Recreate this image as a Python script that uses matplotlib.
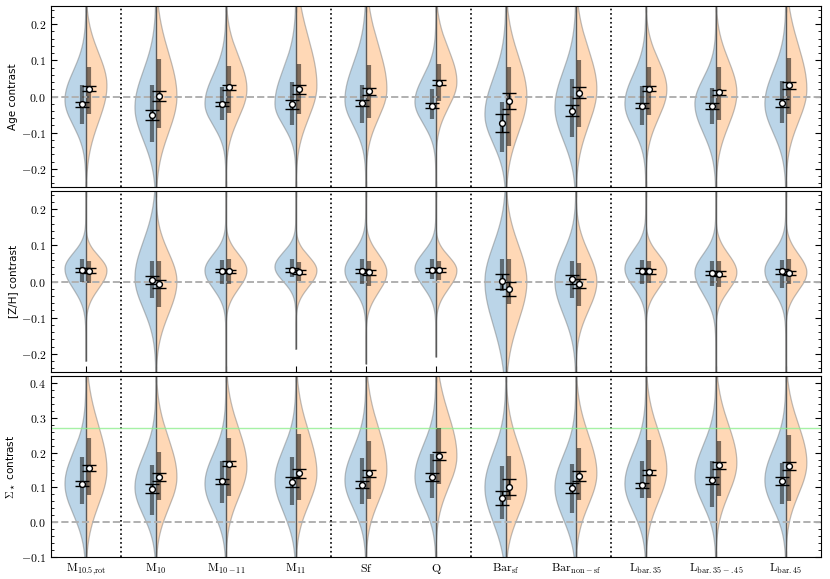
import numpy as np
import matplotlib
matplotlib.use("Agg")
import matplotlib.pyplot as plt
from matplotlib.ticker import MultipleLocator, AutoMinorLocator, FuncFormatter

plt.rcParams['mathtext.fontset'] = 'cm'
plt.rcParams['font.family'] = 'DejaVu Sans'

labels = [r'$\mathrm{M_{10.5{,}rot}}$', r'$\mathrm{M_{10}}$', r'$\mathrm{M_{10-11}}$',
          r'$\mathrm{M_{11}}$', r'$\mathrm{Sf}$', r'$\mathrm{Q}$', r'$\mathrm{Bar_{sf}}$',
          r'$\mathrm{Bar_{non-sf}}$', r'$\mathrm{L_{bar.35}}$', r'$\mathrm{L_{bar.35-.45}}$',
          r'$\mathrm{L_{bar.45}}$']
separators = [0.5, 3.5, 5.5, 7.5]

# ---- Age contrast ----
age_b_med = [-0.021, -0.051, -0.021, -0.022, -0.018, -0.025, -0.073, -0.039, -0.025, -0.027, -0.019]
age_b_err = [0.007, 0.014, 0.005, 0.012, 0.008, 0.007, 0.024, 0.015, 0.007, 0.008, 0.011]
age_b_q3 = [0.033, 0.033, 0.027, 0.039, 0.033, 0.022, -0.016, 0.049, 0.030, 0.023, 0.042]
age_b_q1 = [-0.077, -0.126, -0.065, -0.080, -0.074, -0.063, -0.152, -0.112, -0.078, -0.076, -0.074]
age_o_med = [0.021, 0.002, 0.025, 0.020, 0.014, 0.038, -0.012, 0.011, 0.022, 0.012, 0.031]
age_o_err = [0.007, 0.014, 0.006, 0.012, 0.009, 0.007, 0.022, 0.016, 0.006, 0.007, 0.010]
age_o_q3 = [0.081, 0.104, 0.083, 0.091, 0.088, 0.090, 0.082, 0.102, 0.082, 0.081, 0.106]
age_o_q1 = [-0.048, -0.086, -0.046, -0.047, -0.059, -0.013, -0.137, -0.083, -0.051, -0.065, -0.048]
# violin outline: peak position, spread below / above the peak
age_b_peak = [-0.01, -0.03, -0.02, -0.02, -0.01, -0.015, -0.05, -0.03, -0.02, -0.02, -0.02]
age_b_slo = [0.07, 0.09, 0.06, 0.06, 0.07, 0.06, 0.08, 0.09, 0.07, 0.08, 0.08]
age_b_shi = [0.08, 0.10, 0.08, 0.095, 0.10, 0.07, 0.10, 0.10, 0.08, 0.07, 0.09]
age_o_peak = [0.03, 0.0, 0.02, 0.03, 0.02, 0.04, 0.0, 0.02, 0.02, 0.01, 0.02]
age_o_slo = [0.10, 0.10, 0.08, 0.09, 0.08, 0.07, 0.10, 0.10, 0.08, 0.09, 0.09]
age_o_shi = [0.09, 0.12, 0.09, 0.13, 0.12, 0.09, 0.11, 0.11, 0.08, 0.09, 0.12]
age_tail = [-0.3] * 11

# ---- [Z/H] contrast ----
zh_b_med = [0.032, 0.004, 0.030, 0.032, 0.029, 0.032, 0.001, 0.006, 0.030, 0.024, 0.028]
zh_b_err = [0.006, 0.011, 0.005, 0.006, 0.006, 0.006, 0.021, 0.012, 0.006, 0.006, 0.007]
zh_b_q3 = [0.061, 0.058, 0.060, 0.061, 0.061, 0.061, 0.061, 0.056, 0.059, 0.058, 0.059]
zh_b_q1 = [-0.001, -0.045, -0.006, 0.012, -0.006, 0.006, -0.025, -0.045, -0.006, -0.013, -0.019]
zh_o_med = [0.030, -0.006, 0.028, 0.027, 0.025, 0.031, -0.020, -0.006, 0.028, 0.022, 0.024]
zh_o_err = [0.006, 0.011, 0.005, 0.006, 0.006, 0.006, 0.020, 0.012, 0.006, 0.006, 0.006]
zh_o_q3 = [0.058, 0.056, 0.063, 0.053, 0.056, 0.058, 0.062, 0.051, 0.058, 0.056, 0.063]
zh_o_q1 = [-0.005, -0.071, -0.006, 0.001, -0.013, 0.003, -0.063, -0.068, -0.004, -0.016, -0.008]
zh_b_peak = [0.035, 0.01, 0.03, 0.04, 0.03, 0.035, 0.0, 0.0, 0.035, 0.025, 0.03]
zh_b_slo = [0.055, 0.085, 0.05, 0.04, 0.05, 0.05, 0.12, 0.09, 0.05, 0.06, 0.055]
zh_b_shi = [0.043, 0.10, 0.045, 0.04, 0.05, 0.045, 0.10, 0.08, 0.05, 0.05, 0.05]
zh_o_peak = [0.03, 0.0, 0.03, 0.03, 0.025, 0.03, 0.0, 0.0, 0.03, 0.025, 0.025]
zh_o_slo = [0.05, 0.09, 0.05, 0.045, 0.055, 0.05, 0.11, 0.08, 0.05, 0.05, 0.05]
zh_o_shi = [0.04, 0.08, 0.045, 0.04, 0.05, 0.04, 0.10, 0.08, 0.045, 0.05, 0.05]
zh_tail = [-0.22, -0.3, -0.3, -0.187, -0.227, -0.208, -0.3, -0.3, -0.3, -0.3, -0.3]

# ---- Sigma_* contrast ----
sig_b_med = [0.111, 0.096, 0.117, 0.116, 0.108, 0.130, 0.070, 0.098, 0.106, 0.120, 0.118]
sig_b_err = [0.008, 0.013, 0.007, 0.014, 0.010, 0.011, 0.021, 0.015, 0.007, 0.010, 0.012]
sig_b_q3 = [0.187, 0.165, 0.177, 0.187, 0.183, 0.196, 0.160, 0.166, 0.177, 0.176, 0.170]
sig_b_q1 = [0.052, 0.020, 0.055, 0.048, 0.051, 0.069, 0.010, 0.025, 0.070, 0.044, 0.051]
sig_o_med = [0.155, 0.130, 0.168, 0.141, 0.140, 0.190, 0.101, 0.132, 0.143, 0.163, 0.161]
sig_o_err = [0.008, 0.012, 0.008, 0.013, 0.010, 0.012, 0.022, 0.015, 0.008, 0.010, 0.012]
sig_o_q3 = [0.241, 0.201, 0.241, 0.252, 0.234, 0.271, 0.190, 0.212, 0.236, 0.234, 0.250]
sig_o_q1 = [0.077, 0.063, 0.076, 0.063, 0.067, 0.110, 0.065, 0.063, 0.070, 0.076, 0.061]
sig_b_peak = [0.11, 0.10, 0.11, 0.12, 0.12, 0.13, 0.10, 0.10, 0.11, 0.13, 0.12]
sig_b_slo = [0.087, 0.08, 0.08, 0.09, 0.08, 0.08, 0.10, 0.09, 0.08, 0.08, 0.08]
sig_b_shi = [0.09, 0.09, 0.085, 0.09, 0.09, 0.09, 0.10, 0.09, 0.09, 0.09, 0.09]
sig_o_peak = [0.15, 0.13, 0.16, 0.14, 0.15, 0.19, 0.11, 0.14, 0.15, 0.17, 0.17]
sig_o_slo = [0.10, 0.09, 0.09, 0.09, 0.09, 0.09, 0.09, 0.09, 0.09, 0.09, 0.09]
sig_o_shi = [0.127, 0.11, 0.11, 0.12, 0.12, 0.12, 0.11, 0.11, 0.11, 0.11, 0.11]
sig_tail = [-0.2] * 11
sig_ref = 0.27

HALF_W = 0.3
OFF = 0.05


def half_violin(ax, x, side, peak, slo, shi, color, ylo, yhi):
    y = np.linspace(ylo, yhi, 500)
    s = np.where(y < peak, slo, shi)
    w = HALF_W * np.exp(-0.5 * ((y - peak) / s) ** 2)
    ax.fill_betweenx(y, x, x + side * w, facecolor=color, alpha=0.3, lw=0)
    ax.plot(x + side * w, y, color='0.45', alpha=0.45, lw=0.9)


def panel(ax, ylim, blue, orange, tail, ylabel):
    n = len(labels)
    top = ylim[1] + 0.05
    for i in range(n):
        half_violin(ax, i, -1, blue[4][i], blue[5][i], blue[6][i], 'C0', tail[i], top)
        half_violin(ax, i, 1, orange[4][i], orange[5][i], orange[6][i], 'C1', tail[i], top)
        ax.vlines(i, tail[i], top, color='0.35', lw=1.0)
    xs = np.arange(n)
    for d, data in ((-1, blue), (1, orange)):
        ax.vlines(xs + d * OFF, data[3], data[2], color='k', alpha=0.5, lw=3.0, zorder=3)
        ax.errorbar(xs + d * OFF, data[0], yerr=data[1], fmt='o', mfc='white', mec='k',
                    ms=4.2, mew=1.0, ecolor='k', elinewidth=1.0, capsize=5, capthick=1.2, zorder=5)
    ax.axhline(0, color='#b0b0b0', ls='--', lw=1.4, zorder=2)
    for s in separators:
        ax.axvline(s, color='k', ls=':', lw=1.2)
    ax.set_xlim(-0.5, n - 0.5)
    ax.set_ylim(*ylim)
    ax.set_xticks(xs)
    ax.yaxis.set_major_locator(MultipleLocator(0.1))
    ax.yaxis.set_minor_locator(AutoMinorLocator(5))
    ax.yaxis.set_major_formatter(FuncFormatter(lambda v, p: '$%.1f$' % (0.0 if abs(v) < 1e-9 else v)))
    ax.tick_params(which='both', direction='in', top=True, right=True, labelsize=8.5)
    ax.tick_params(which='major', length=4)
    ax.tick_params(which='minor', length=2)
    ax.set_ylabel(ylabel, fontsize=7.5, labelpad=2)


fig, axes = plt.subplots(3, 1, figsize=(8.3, 5.79), dpi=100)
fig.subplots_adjust(left=0.0614, right=0.989, top=0.9896, bottom=0.038, hspace=0.022)

panel(axes[0], (-0.25, 0.25),
      (age_b_med, age_b_err, age_b_q3, age_b_q1, age_b_peak, age_b_slo, age_b_shi),
      (age_o_med, age_o_err, age_o_q3, age_o_q1, age_o_peak, age_o_slo, age_o_shi),
      age_tail, 'Age contrast')
panel(axes[1], (-0.25, 0.25),
      (zh_b_med, zh_b_err, zh_b_q3, zh_b_q1, zh_b_peak, zh_b_slo, zh_b_shi),
      (zh_o_med, zh_o_err, zh_o_q3, zh_o_q1, zh_o_peak, zh_o_slo, zh_o_shi),
      zh_tail, '[Z/H] contrast')
panel(axes[2], (-0.1, 0.42),
      (sig_b_med, sig_b_err, sig_b_q3, sig_b_q1, sig_b_peak, sig_b_slo, sig_b_shi),
      (sig_o_med, sig_o_err, sig_o_q3, sig_o_q1, sig_o_peak, sig_o_slo, sig_o_shi),
      sig_tail, r'$\Sigma_\star$ contrast')
axes[2].axhline(sig_ref, color='lightgreen', lw=1.0, alpha=0.8)

axes[0].set_xticklabels([])
axes[1].set_xticklabels([])
axes[2].set_xticklabels(labels, fontsize=8.5)

fig.savefig('out.png', dpi=100)
